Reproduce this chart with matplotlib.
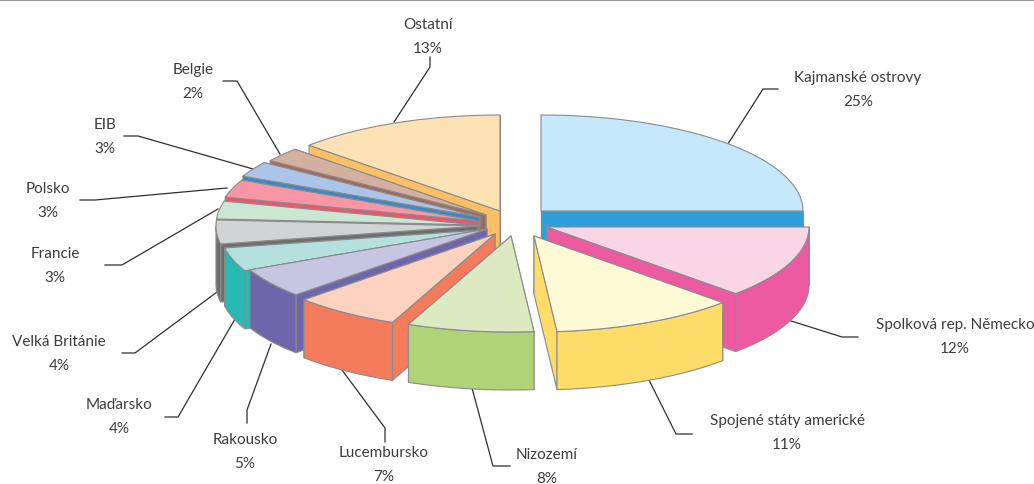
import numpy as np
import matplotlib
matplotlib.use("Agg")
import matplotlib.pyplot as plt
from matplotlib.patches import Polygon

names = ["Kajmanské ostrovy", "Spolková rep. Německo", "Spojené státy americké", "Nizozemí",
         "Lucembursko", "Rakousko", "Maďarsko", "Velká Británie", "Francie", "Polsko",
         "EIB", "Belgie", "Ostatní"]
values = [25.0, 12.2, 11.4, 7.8, 6.6, 5.0, 4.0, 4.0, 3.0, 3.0, 2.6, 2.4, 13.0]
top_colors = ["#c5e8fb", "#f9d5e6", "#fefad5", "#dbeac1", "#fdd2be", "#c8c5e2", "#b4e0dd",
              "#d2d3d5", "#cbe6d3", "#f797a6", "#aac5e8", "#d4b0a0", "#fde2b5"]
side_colors = ["#2e9fd9", "#ee5a9f", "#fedc68", "#afd477", "#f47b5b", "#6d66ab", "#27b9b4",
               "#6d6e70", "#63b88a", "#ef5468", "#3d87c4", "#a5695a", "#fdbf66"]
explode_x = [41, 47, 34, 11, -5, -13, -18, -22, -22, -21, -20, -14, 0]
explode_y = [0, 16, 25, 25, 23, 18, 19, 15, 14, 10, 6, 4, 0]
draw_order = [0, 1, 2, 12, 11, 10, 9, 8, 7, 6, 5, 4, 3]

CX, CY, RX, RY, DEPTH = 500, 212, 262, 96, 58
EDGE = "#8a8b8d"

label_xy = [(858, 90), (955, 337), (787, 433), (547, 467), (384, 465), (245, 452), (119, 417),
            (59, 354), (55, 266), (48, 201), (105, 137), (193, 82), (428, 37)]
leaders = [
    [(726, 148), (763, 90), (778, 90)],
    [(788, 321), (842, 338), (858, 338)],
    [(648, 379), (676, 435), (692, 435)],
    [(472, 389), (493, 467), (510, 467)],
    [(342, 371), (385, 429), (385, 443)],
    [(271, 345), (247, 411), (247, 424)],
    [(235, 320), (178, 418), (165, 418)],
    [(217, 293), (135, 354), (122, 354)],
    [(218, 210), (122, 266), (105, 266)],
    [(227, 189), (95, 201), (80, 201)],
    [(253, 170), (138, 137), (124, 137)],
    [(280, 155), (237, 82), (223, 82)],
    [(394, 123), (430, 68), (430, 58)],
]

plt.rcParams['font.family'] = ['Lato', 'DejaVu Sans']

fig = plt.figure(figsize=(10.34, 4.85), dpi=100)
ax = fig.add_axes([0, 0, 1, 1])
ax.set_xlim(0, 1034)
ax.set_ylim(485, 0)
ax.axis("off")
ax.plot([0, 1034], [0.8, 0.8], color="#98999b", lw=1.6, solid_capstyle="butt")


def rim(cx, cy, a0, a1, n=60):
    t = np.radians(np.linspace(a0, a1, n))
    return np.column_stack([cx + RX * np.sin(t), cy - RY * np.cos(t)])


angles = np.concatenate([[0], np.cumsum(values)]) / np.sum(values) * 360
for rank, i in enumerate(draw_order):
    a0, a1 = angles[i], angles[i + 1]
    cx, cy = CX + explode_x[i], CY + explode_y[i]
    z = 2 + rank
    down = np.array([0, DEPTH])
    tip = np.array([cx, cy])
    faces = []
    for a in (a0, a1):
        p = rim(cx, cy, a, a, 1)[0]
        faces.append((p[1] + cy, [tip, p, p + down, tip + down]))
    v0, v1 = max(a0, 90), min(a1, 270)
    if v1 > v0:
        arc = rim(cx, cy, v0, v1)
        faces.append((1e4, np.vstack([arc, (arc + down)[::-1]])))
    for _, pts in sorted(faces, key=lambda f: f[0]):
        ax.add_patch(Polygon(np.array(pts), closed=True, fc=side_colors[i], ec=EDGE, lw=0.8,
                             joinstyle="round", zorder=z))
    top = np.vstack([tip, rim(cx, cy, a0, a1)])
    ax.add_patch(Polygon(top, closed=True, fc=top_colors[i], ec=EDGE, lw=0.8,
                         joinstyle="round", zorder=z))

for pts in leaders:
    xs, ys = zip(*pts)
    ax.plot(xs, ys, color="#2f2f31", lw=0.9, zorder=1, solid_joinstyle="miter")

for name, v, (x, y) in zip(names, values, label_xy):
    ax.text(x, y, f"{name}\n{round(v)}%", ha="center", va="center", fontsize=11.0,
            color="#3c3c3e", linespacing=1.85, clip_on=False)

fig.savefig("out.png", dpi=100)
